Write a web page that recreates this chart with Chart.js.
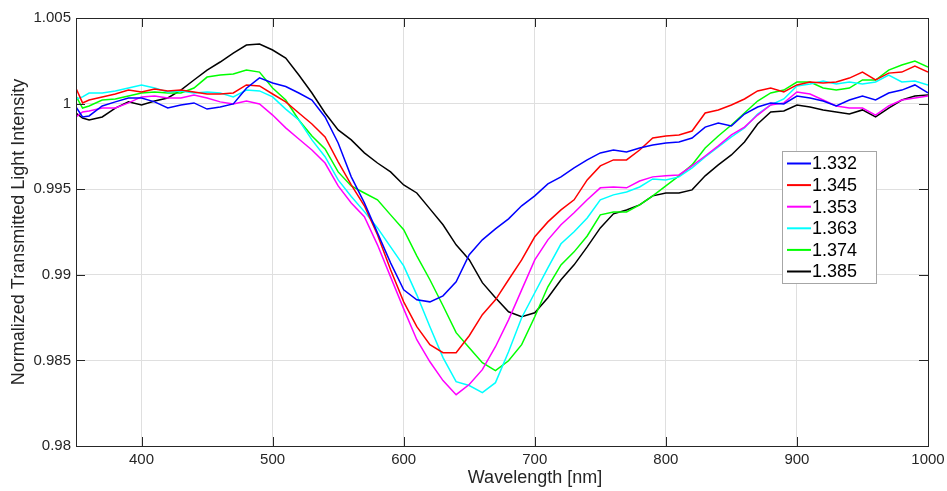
<!DOCTYPE html>
<html lang="en">
<head>
<meta charset="UTF-8" />
<title>Normalized Transmitted Light Intensity</title>
<style>
  html, body { margin: 0; padding: 0; background: #fff; }
  #wrap { width: 947px; height: 491px; }
</style>
<script src="https://cdn.jsdelivr.net/npm/chart.js"></script>
</head>
<body>
<div id="wrap"><canvas id="chart" width="947" height="491"></canvas></div>
<script>
// wavelength in nm
const wavelength = [350, 355, 360, 370, 380, 390, 400, 410, 420, 430, 440, 450, 460, 470, 480, 490,
  500, 510, 520, 530, 540, 550, 560, 570, 580, 590, 600, 610, 620, 630, 640, 650, 660, 670, 680, 690,
  700, 710, 720, 730, 740, 750, 760, 770, 780, 790, 800, 810, 820, 830, 840, 850, 860, 870, 880, 890,
  900, 910, 920, 930, 940, 950, 960, 970, 980, 990, 1000];

// normalized transmitted intensity, one list per refractive index
const ri1332 = [0.9998, 0.99922, 0.99928, 0.99986, 1.0001, 1.00033, 1.00033, 1.0001, 0.99974, 0.99992, 1.00004, 0.99968, 0.9998, 0.99998, 1.0009, 1.0015,
  1.0012, 1.001, 1.00062, 1.00021, 0.99922, 0.9977, 0.99572, 0.9942, 0.99245, 0.9907, 0.98912, 0.98854, 0.98842, 0.98877, 0.98959, 0.99117, 0.99204, 0.99268, 0.99327, 0.99403,
  0.99461, 0.99531, 0.99572, 0.99624, 0.99671, 0.99712, 0.99729, 0.99718, 0.99741, 0.99758, 0.9977, 0.99776, 0.99799, 0.99863, 0.99887, 0.99869, 0.99939, 0.9998, 1.00004, 0.99998,
  1.00044, 1.00033, 1.00015, 0.99986, 1.00021, 1.00044, 1.00021, 1.00062, 1.00079, 1.00109, 1.00062];
const ri1345 = [1.0009, 1.00004, 1.00021, 1.00039, 1.00056, 1.00079, 1.00068, 1.00085, 1.00074, 1.00079, 1.00068, 1.00056, 1.00056, 1.00062, 1.00109, 1.00103,
  1.00056, 1.0001, 0.99945, 0.99881, 0.99805, 0.9966, 0.99525, 0.99403, 0.99234, 0.99029, 0.98842, 0.98697, 0.98592, 0.98545, 0.98545, 0.98644, 0.98767, 0.98854, 0.98971, 0.99087,
  0.99222, 0.99309, 0.99379, 0.99438, 0.99554, 0.99636, 0.99671, 0.99671, 0.99729, 0.99799, 0.99811, 0.99817, 0.9984, 0.99945, 0.99963, 0.99992, 1.00027, 1.00074, 1.00091, 1.00068,
  1.00109, 1.00126, 1.0012, 1.00126, 1.00149, 1.00184, 1.00138, 1.00178, 1.00184, 1.00219, 1.00184];
const ri1353 = [0.99922, 0.99951, 0.99957, 0.99974, 0.99974, 1.00004, 1.00039, 1.00044, 1.00033, 1.00033, 1.0005, 1.00033, 1.0001, 0.99998, 1.00015, 0.99998,
  0.99933, 0.99858, 0.99793, 0.99729, 0.99653, 0.99519, 0.9942, 0.99339, 0.99175, 0.98988, 0.98801, 0.98621, 0.98492, 0.98382, 0.983, 0.98359, 0.98446, 0.9858, 0.98737, 0.98912,
  0.99087, 0.99204, 0.99292, 0.99362, 0.99438, 0.99508, 0.99513, 0.99508, 0.99548, 0.99572, 0.99578, 0.99583, 0.99636, 0.99694, 0.99753, 0.99817, 0.99863, 0.99933, 0.99992, 1.00004,
  1.00068, 1.00056, 1.00021, 0.99986, 0.99974, 0.99974, 0.99933, 0.99986, 1.00021, 1.00033, 1.00044];
const ri1363 = [1.00027, 1.00039, 1.00062, 1.00062, 1.00074, 1.00091, 1.00109, 1.00091, 1.00068, 1.00074, 1.00062, 1.00068, 1.00062, 1.00039, 1.00079, 1.00074,
  1.00039, 0.99968, 0.99904, 0.99788, 0.9969, 0.99554, 0.99457, 0.99369, 0.99274, 0.99163, 0.99052, 0.98883, 0.98697, 0.98516, 0.98376, 0.98353, 0.98312, 0.9837, 0.98551, 0.98749,
  0.98895, 0.99041, 0.99181, 0.99251, 0.99332, 0.99438, 0.99467, 0.99484, 0.99513, 0.9956, 0.99554, 0.99572, 0.99624, 0.99688, 0.99747, 0.99805, 0.99858, 0.99939, 0.99992, 1.00027,
  1.00103, 1.00114, 1.00132, 1.00114, 1.00126, 1.00114, 1.00126, 1.00167, 1.00126, 1.00132, 1.00109];
const ri1374 = [1.00044, 0.99974, 0.99986, 1.00021, 1.00027, 1.00044, 1.00062, 1.00068, 1.00062, 1.00062, 1.00091, 1.00155, 1.00167, 1.00173, 1.00196, 1.00184,
  1.00091, 1.00021, 0.99904, 0.99811, 0.99735, 0.99601, 0.99519, 0.99478, 0.99438, 0.9935, 0.99263, 0.99111, 0.98971, 0.98819, 0.98662, 0.98574, 0.98487, 0.9844, 0.98498, 0.98592,
  0.98755, 0.9893, 0.99058, 0.99134, 0.99227, 0.9935, 0.99367, 0.99367, 0.99408, 0.99461, 0.99519, 0.99578, 0.99642, 0.99741, 0.99811, 0.99875, 0.99945, 1.00015, 1.00062, 1.00079,
  1.00126, 1.00126, 1.00091, 1.00079, 1.00091, 1.00138, 1.00138, 1.00196, 1.00225, 1.00248, 1.00214];
const ri1385 = [0.99945, 0.99916, 0.99904, 0.99922, 0.99974, 1.0001, 0.99992, 1.00015, 1.00033, 1.00079, 1.00138, 1.00196, 1.00243, 1.00295, 1.00342, 1.00348,
  1.00313, 1.00266, 1.00167, 1.00062, 0.99945, 0.99846, 0.99788, 0.99712, 0.99653, 0.99601, 0.99525, 0.99478, 0.99385, 0.99292, 0.99175, 0.99088, 0.98954, 0.98866, 0.98784, 0.98755,
  0.98778, 0.98866, 0.98971, 0.99058, 0.99163, 0.99274, 0.99356, 0.99379, 0.99408, 0.99461, 0.99478, 0.99478, 0.99496, 0.99578, 0.99642, 0.997, 0.99776, 0.99881, 0.99951, 0.99957,
  0.99992, 0.9998, 0.99963, 0.99951, 0.99939, 0.99963, 0.99922, 0.99974, 1.00021, 1.00044, 1.0005];

const seriesNames = ["1.332", "1.345", "1.353", "1.363", "1.374", "1.385"];
const seriesValues = [ri1332, ri1345, ri1353, ri1363, ri1374, ri1385];
const seriesColors = ["#0000ff", "#ff0000", "#ff00ff", "#00ffff", "#00ff00", "#000000"];

const xTicks = [400, 500, 600, 700, 800, 900, 1000];
const yTicks = [0.98, 0.985, 0.99, 0.995, 1, 1.005];

const FONT = "'Liberation Sans', Arial, Helvetica, sans-serif";
const INK = "#262626";

// box, inward tick marks, x label and legend drawn MATLAB-style
const matlabFrame = {
  id: "matlabFrame",
  afterDraw(chart) {
    const ctx = chart.ctx;
    const a = chart.chartArea;
    const xs = chart.scales.x, ys = chart.scales.y;
    ctx.save();
    ctx.strokeStyle = INK;
    ctx.lineWidth = 1;
    ctx.beginPath();
    xTicks.forEach(v => {
      const px = Math.round(xs.getPixelForValue(v)) + 0.5;
      ctx.moveTo(px, a.bottom); ctx.lineTo(px, a.bottom - 9);
      ctx.moveTo(px, a.top); ctx.lineTo(px, a.top + 9);
    });
    yTicks.forEach(v => {
      const py = Math.round(ys.getPixelForValue(v)) + 0.5;
      ctx.moveTo(a.left, py); ctx.lineTo(a.left + 9, py);
      ctx.moveTo(a.right, py); ctx.lineTo(a.right - 9, py);
    });
    ctx.stroke();
    ctx.strokeRect(Math.round(a.left) + 0.5, Math.round(a.top) + 0.5,
      Math.round(a.right - a.left), Math.round(a.bottom - a.top));

    // x axis label
    ctx.fillStyle = INK;
    ctx.font = "18px " + FONT;
    ctx.textAlign = "center";
    ctx.textBaseline = "middle";
    ctx.fillText("Wavelength [nm]", 535, 478);

    // legend
    const lx = 782.5, ly = 151.5, lw = 94, lh = 132;
    ctx.fillStyle = "#ffffff";
    ctx.fillRect(lx, ly, lw, lh);
    ctx.strokeStyle = "#a6a6a6";
    ctx.strokeRect(lx, ly, lw, lh);
    ctx.textAlign = "left";
    ctx.font = "18px " + FONT;
    chart.data.datasets.forEach((ds, i) => {
      const y = 163.5 + i * 21.6;
      ctx.strokeStyle = ds.borderColor;
      ctx.lineWidth = 2;
      ctx.beginPath();
      ctx.moveTo(787, y); ctx.lineTo(811, y);
      ctx.stroke();
      ctx.fillStyle = "#000000";
      ctx.fillText(ds.label, 812, y + 1);
    });
    ctx.restore();
  }
};

const datasets = seriesNames.map((name, i) => ({
  label: name,
  data: wavelength.map((w, j) => ({ x: w, y: seriesValues[i][j] })),
  borderColor: seriesColors[i],
  backgroundColor: seriesColors[i],
  borderWidth: 1.5,
  pointRadius: 0,
  tension: 0,
  fill: false
}));

new Chart(document.getElementById("chart"), {
  type: "line",
  data: { datasets },
  options: {
    responsive: false,
    animation: false,
    devicePixelRatio: 1,
    layout: { padding: { left: 0, top: 18, right: 19, bottom: 0 } },
    plugins: { legend: { display: false }, tooltip: { enabled: false } },
    scales: {
      x: {
        type: "linear",
        min: 350,
        max: 1000,
        afterBuildTicks: s => { s.ticks = xTicks.map(v => ({ value: v })); },
        afterFit: s => { s.height = 45; s.paddingLeft = 0; s.paddingRight = 0; },
        grid: { color: "#dfdfdf", drawTicks: false },
        border: { display: false },
        ticks: {
          color: INK,
          font: { family: FONT, size: 15 },
          padding: 5,
          maxRotation: 0,
          callback: v => String(v)
        }
      },
      y: {
        min: 0.98,
        max: 1.005,
        afterBuildTicks: s => { s.ticks = yTicks.map(v => ({ value: v })); },
        afterFit: s => { s.width = 76; s.paddingTop = 0; s.paddingBottom = 0; },
        grid: { color: "#dfdfdf", drawTicks: false },
        border: { display: false },
        ticks: {
          color: INK,
          font: { family: FONT, size: 15 },
          padding: 5,
          callback: v => String(Number(v.toFixed(3)))
        },
        title: {
          display: true,
          text: "Normalized Transmitted Light Intensity",
          color: INK,
          font: { family: FONT, size: 18 },
          padding: { top: 8, bottom: 0 }
        }
      }
    }
  },
  plugins: [matlabFrame]
});
</script>
</body>
</html>
